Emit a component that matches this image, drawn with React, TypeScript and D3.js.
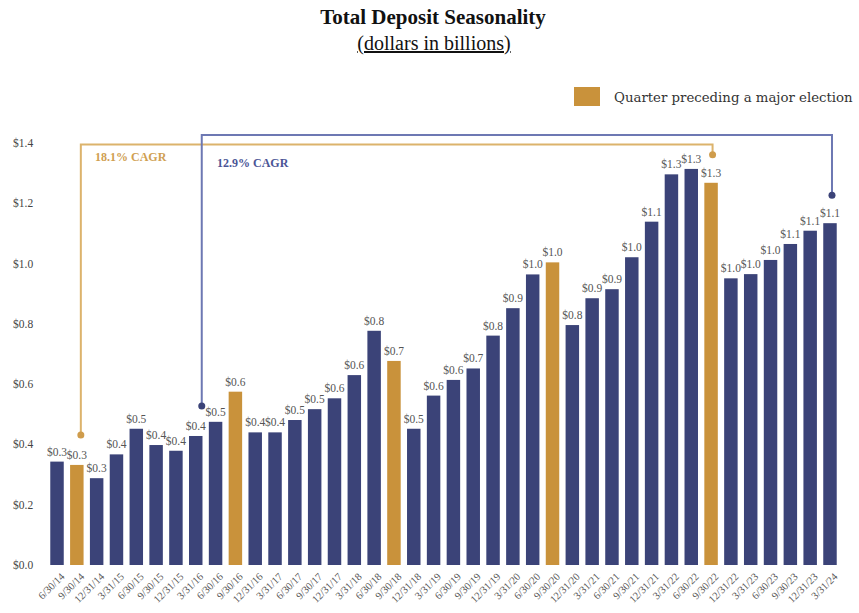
import React from "react";
import * as d3 from "d3";

// Quarter-end dates and total deposits (billions of dollars)
const quarters = [
  "6/30/14", "9/30/14", "12/31/14", "3/31/15", "6/30/15", "9/30/15", "12/31/15", "3/31/16",
  "6/30/16", "9/30/16", "12/31/16", "3/31/17", "6/30/17", "9/30/17", "12/31/17", "3/31/18",
  "6/30/18", "9/30/18", "12/31/18", "3/31/19", "6/30/19", "9/30/19", "12/31/19", "3/31/20",
  "6/30/20", "9/30/20", "12/31/20", "3/31/21", "6/30/21", "9/30/21", "12/31/21", "3/31/22",
  "6/30/22", "9/30/22", "12/31/22", "3/31/23", "6/30/23", "9/30/23", "12/31/23", "3/31/24",
];

const deposits = [
  0.343, 0.332, 0.288, 0.367, 0.452, 0.398, 0.379, 0.428,
  0.475, 0.575, 0.44, 0.44, 0.481, 0.517, 0.553, 0.63,
  0.777, 0.677, 0.452, 0.562, 0.614, 0.652, 0.761, 0.852,
  0.964, 1.004, 0.796, 0.885, 0.915, 1.021, 1.139, 1.296,
  1.314, 1.268, 0.951, 0.965, 1.012, 1.065, 1.109, 1.134,
];

// Quarters immediately before a major election
const electionQuarters = ["9/30/14", "9/30/16", "9/30/18", "9/30/20", "9/30/22"];

const yTicks = [0, 0.2, 0.4, 0.6, 0.8, 1.0, 1.2, 1.4];

// Growth brackets: [start quarter, end quarter, label]
const cagrStart = ["9/30/14", "3/31/16"];
const cagrEnd = ["9/30/22", "3/31/24"];
const cagrLabels = ["18.1% CAGR", "12.9% CAGR"];

const legendLabel = "Quarter preceding a major election";

const NAVY = "#3b4378";
const GOLD = "#c9923b";
const GOLD_LINE = "#dcb36c";
const BLUE_LINE = "#6d78b3";
const SERIF = "'Liberation Serif', 'Times New Roman', serif";
const WIDE_SERIF = "'DejaVu Serif', Georgia, serif";

export default function App() {
  const width = 859;
  const height = 613;

  const x = d3
    .scaleBand<string>()
    .domain(quarters)
    .range([47.1, 839.9])
    .paddingInner(0.32)
    .paddingOuter(0.16);

  const y = d3.scaleLinear().domain([0, 1.4]).range([565, 143]);

  const cx = (q: string) => (x(q) as number) + x.bandwidth() / 2;
  const valueOf = (q: string) => deposits[quarters.indexOf(q)];

  const fmt = (v: number) => "$" + v.toFixed(1);

  const brackets = [
    { color: GOLD_LINE, dot: "#cf9c4c", text: "#d09f52", topY: 144.5, x0off: 4, x1off: 1.5, lx: 95, ly: 161 },
    { color: BLUE_LINE, dot: NAVY, text: "#4b5596", topY: 135, x0off: 6, x1off: 2, lx: 217, ly: 167 },
  ];

  return (
    <svg
      width={width}
      height={height}
      style={{ position: "absolute", left: 0, top: 0, background: "#fff" }}
      fontFamily={SERIF}
    >
      {/* Title */}
      <text x={433} y={24} textAnchor="middle" fontSize={21} fontWeight="bold" fill="#111">
        Total Deposit Seasonality
      </text>
      <text x={434} y={50} textAnchor="middle" fontSize={20} fill="#111" textDecoration="underline">
        (dollars in billions)
      </text>

      {/* Legend */}
      <rect x={574} y={87} width={26} height={19} fill={GOLD} />
      <text x={614} y={102} fontSize={13.3} fill="#333" fontFamily={WIDE_SERIF}>
        {legendLabel}
      </text>

      {/* Y axis labels */}
      {yTicks.map((t) => (
        <text key={t} x={13} y={y(t)} dy="0.35em" fontSize={11.5} fill="#444">
          {"$" + t.toFixed(1)}
        </text>
      ))}

      {/* Bars */}
      {quarters.map((q, i) => (
        <rect
          key={q}
          x={x(q)}
          y={y(deposits[i])}
          width={x.bandwidth()}
          height={y(0) - y(deposits[i])}
          fill={electionQuarters.includes(q) ? GOLD : NAVY}
        />
      ))}

      {/* Value labels */}
      {quarters.map((q, i) => (
        <text
          key={q}
          x={cx(q)}
          y={y(deposits[i]) - 6}
          textAnchor="middle"
          fontSize={11.5}
          fill="#555"
        >
          {fmt(deposits[i])}
        </text>
      ))}

      {/* X axis labels */}
      {quarters.map((q) => (
        <text
          key={q}
          transform={`translate(${cx(q) + 3},${572}) rotate(-45)`}
          textAnchor="end"
          dy="0.7em"
          fontSize={10.5}
          fill="#555"
        >
          {q}
        </text>
      ))}

      {/* CAGR brackets */}
      {brackets.map((b, i) => {
        const xa = cx(cagrStart[i]) + b.x0off;
        const xb = cx(cagrEnd[i]) + b.x1off;
        const ya = y(valueOf(cagrStart[i])) - 30;
        const yb = y(valueOf(cagrEnd[i])) - 28;
        const path = d3.path();
        path.moveTo(xa, ya);
        path.lineTo(xa, b.topY);
        path.lineTo(xb, b.topY);
        path.lineTo(xb, yb);
        return (
          <g key={cagrLabels[i]}>
            <path d={path.toString()} fill="none" stroke={b.color} strokeWidth={2} />
            <circle cx={xa} cy={ya} r={3.5} fill={b.dot} />
            <circle cx={xb} cy={yb} r={3.5} fill={b.dot} />
            <text x={b.lx} y={b.ly} fontSize={12} fontWeight="bold" fill={b.text}>
              {cagrLabels[i]}
            </text>
          </g>
        );
      })}
    </svg>
  );
}
